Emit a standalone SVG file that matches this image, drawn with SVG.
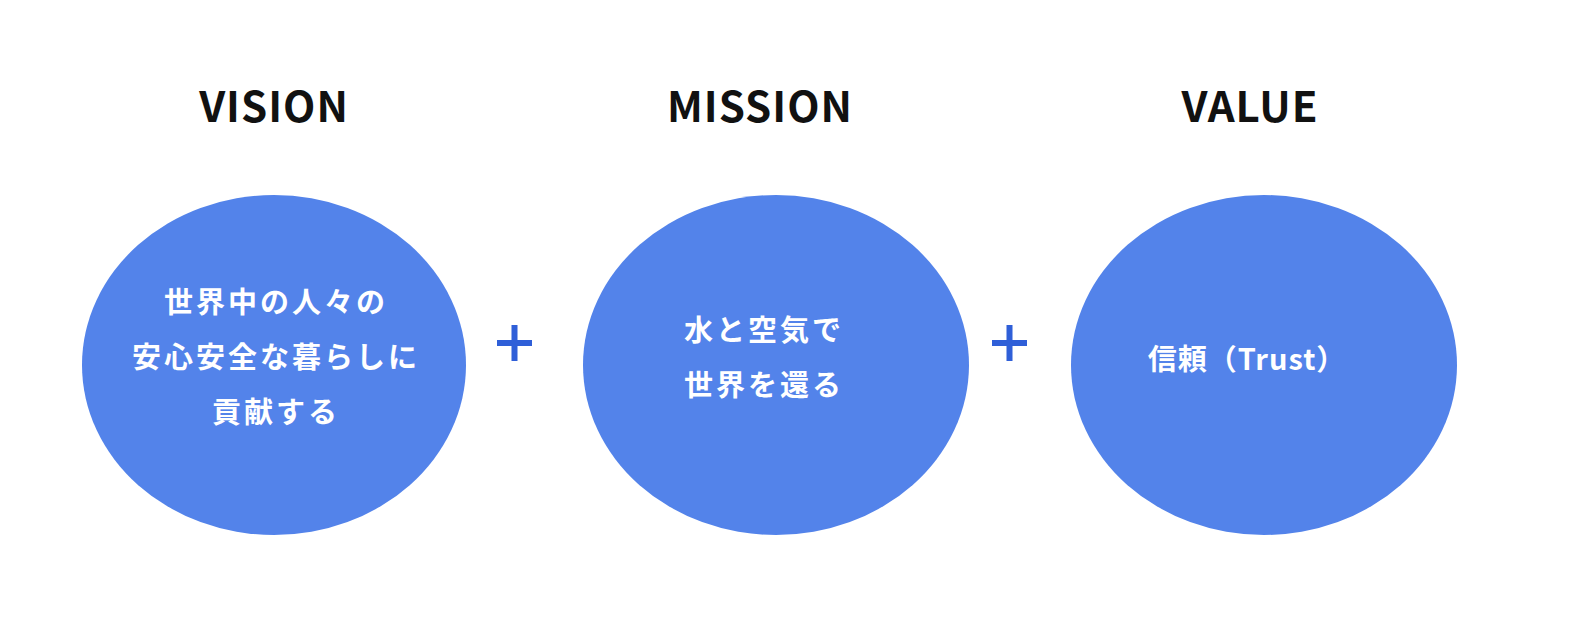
<svg xmlns="http://www.w3.org/2000/svg" width="1584" height="642" viewBox="0 0 1584 642">
<style>
.t{font-family:"Noto Sans CJK JP","Noto Sans",sans-serif;font-weight:bold;font-size:42px;letter-spacing:1px;fill:#111;text-anchor:middle}
.c{fill:#5383EA}
.w{font-family:"Noto Sans CJK JP","Noto Sans",sans-serif;font-weight:bold;font-size:29px;letter-spacing:3px;fill:#fff;text-anchor:middle}
.p{stroke:#2F5FD8;stroke-width:6}
</style>
<rect width="1584" height="642" fill="#fff"/>
<g id="vision">
<text class="t" x="274" y="122">VISION</text>
<ellipse class="c" cx="274" cy="365" rx="192" ry="170"/>
<text class="w" x="276" y="313">世界中の人々の</text>
<text class="w" x="276" y="368">安心安全な暮らしに</text>
<text class="w" x="276" y="423">貢献する</text>
</g>
<g id="mission">
<text class="t" x="760" y="122">MISSION</text>
<ellipse class="c" cx="776" cy="365" rx="193" ry="170"/>
<text class="w" x="764" y="341">水と空気で</text>
<text class="w" x="764" y="396">世界を還る</text>
</g>
<g id="value">
<text class="t" x="1250" y="122">VALUE</text>
<ellipse class="c" cx="1264" cy="365" rx="193" ry="170"/>
<text class="w" x="1247" y="370" style="letter-spacing:1px">信頼（Trust）</text>
</g>
<g id="connectors">
<path class="p" d="M497 343H532M514.5 325V361"/>
<path class="p" d="M992 343H1027M1009.5 325V361"/>
</g>
</svg>
